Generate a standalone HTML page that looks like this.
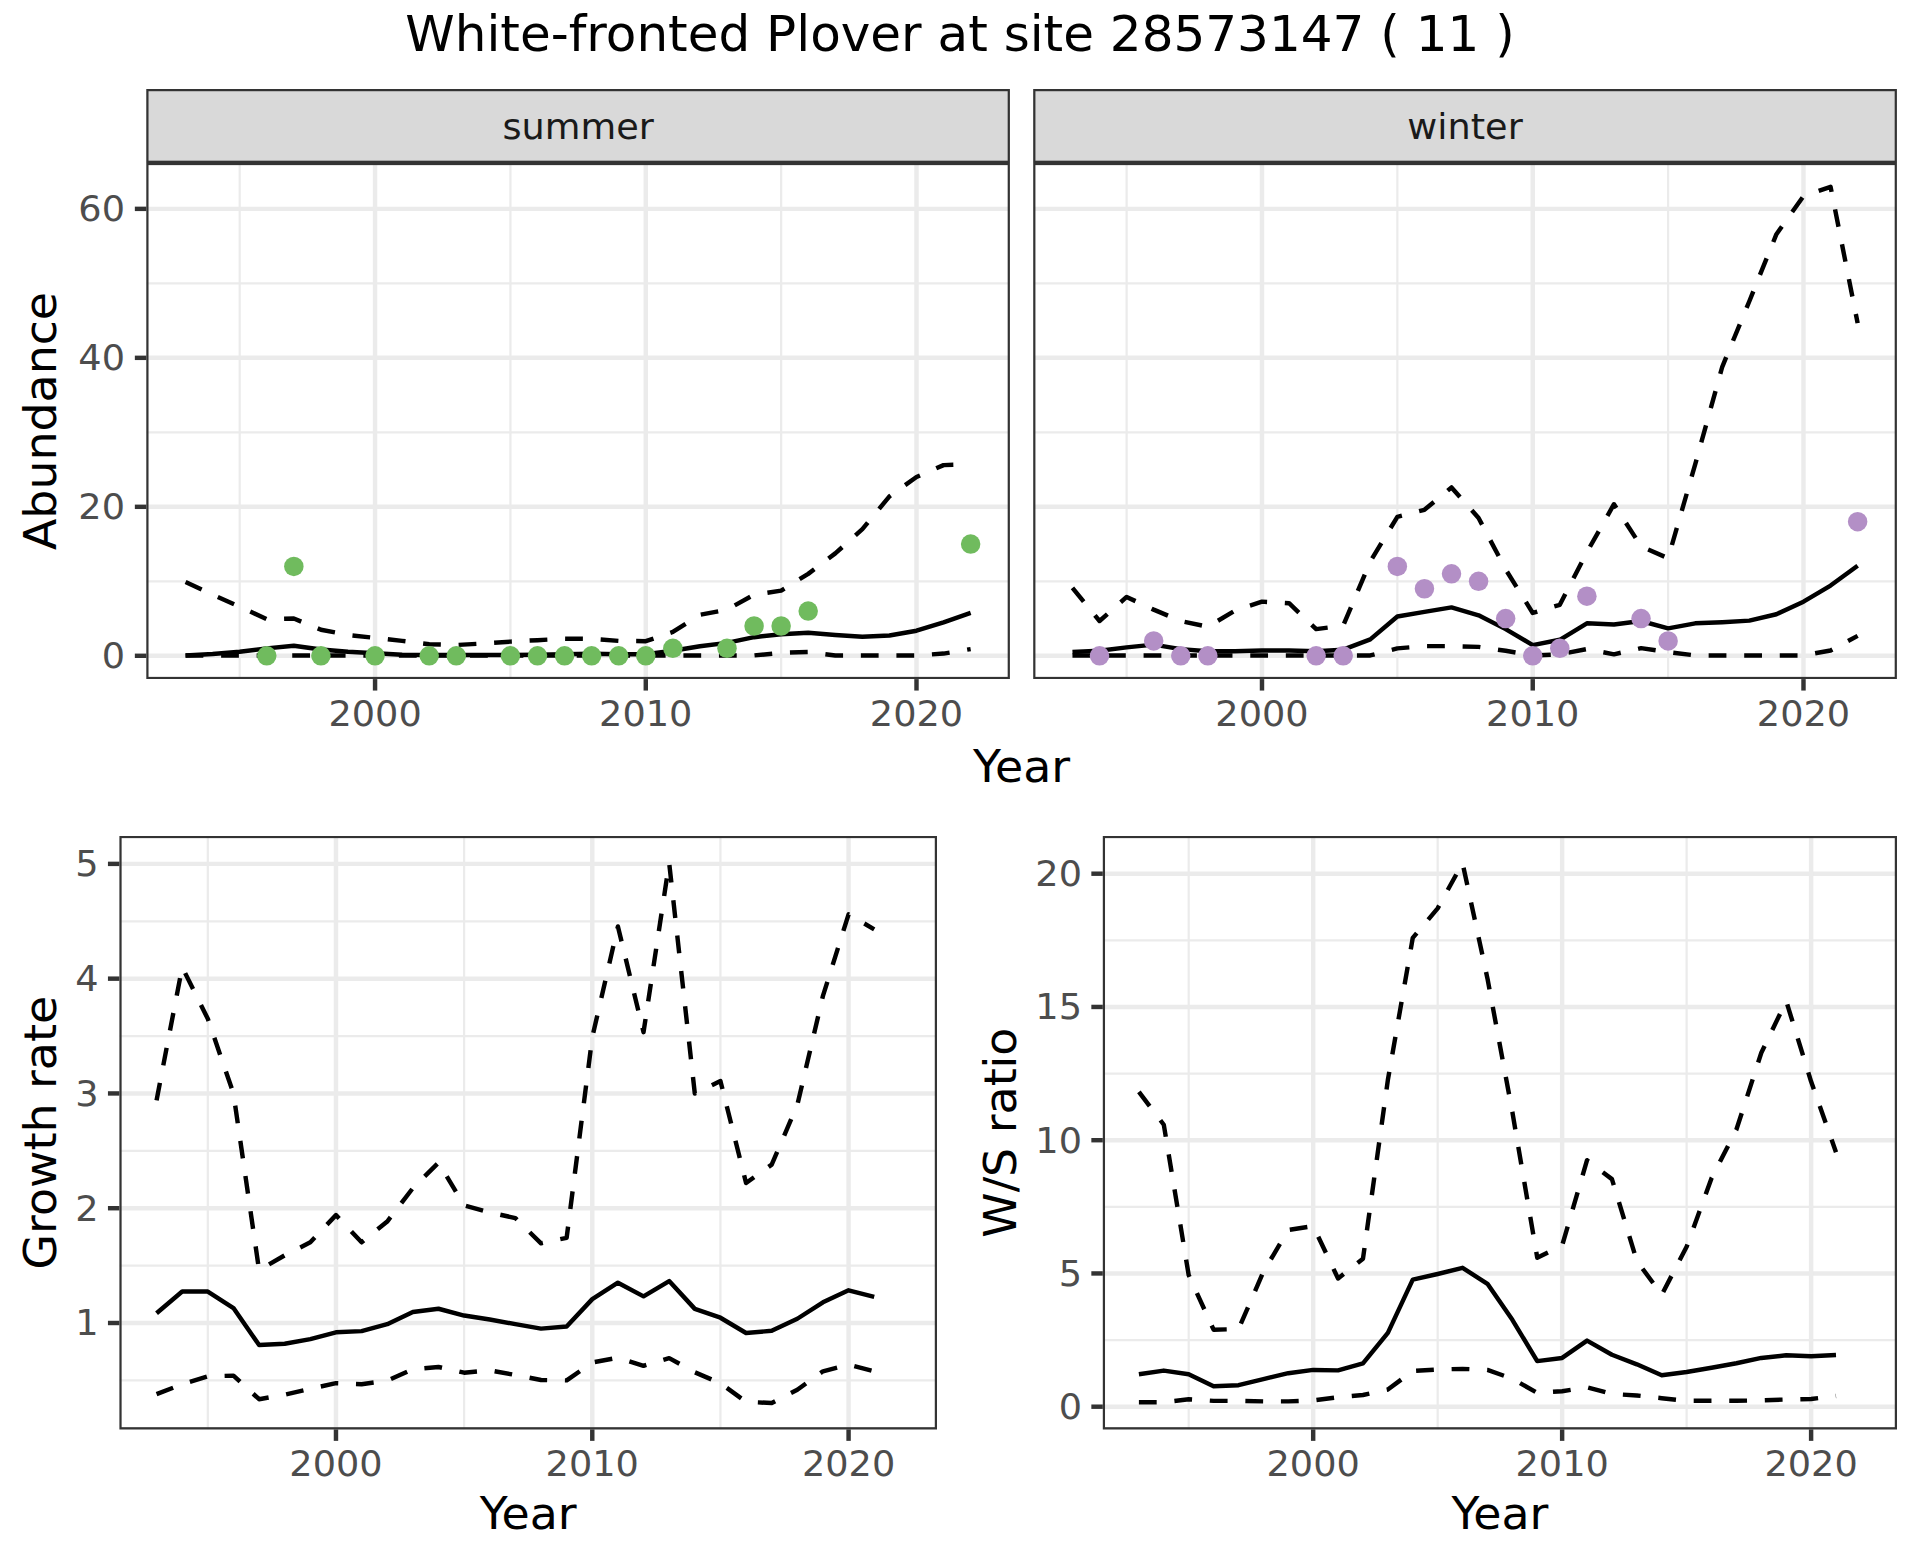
<!DOCTYPE html>
<html><head><meta charset="utf-8"><title>White-fronted Plover at site 28573147 ( 11 )</title>
<style>html,body{margin:0;padding:0;background:#fff;width:1920px;height:1560px;overflow:hidden}svg{display:block}text{font-family:"DejaVu Sans","Liberation Sans",sans-serif}</style>
</head><body>
<svg width="1920" height="1560" viewBox="0 0 1920 1560" font-family="DejaVu Sans, Liberation Sans, sans-serif">
<rect width="100%" height="100%" fill="#fff"/>
<clipPath id="c_summer"><rect x="146.3" y="162.9" width="863.6" height="516.2"/></clipPath>
<g clip-path="url(#c_summer)">
<rect x="146.3" y="162.9" width="863.6" height="516.2" fill="#fff"/>
<line x1="146.3" x2="1009.9" y1="581.31" y2="581.31" stroke="#EBEBEB" stroke-width="2.22"/>
<line x1="146.3" x2="1009.9" y1="432.33" y2="432.33" stroke="#EBEBEB" stroke-width="2.22"/>
<line x1="146.3" x2="1009.9" y1="283.35" y2="283.35" stroke="#EBEBEB" stroke-width="2.22"/>
<line x1="239.7" x2="239.7" y1="162.9" y2="679.1" stroke="#EBEBEB" stroke-width="2.22"/>
<line x1="510.42" x2="510.42" y1="162.9" y2="679.1" stroke="#EBEBEB" stroke-width="2.22"/>
<line x1="781.14" x2="781.14" y1="162.9" y2="679.1" stroke="#EBEBEB" stroke-width="2.22"/>
<line x1="146.3" x2="1009.9" y1="655.8" y2="655.8" stroke="#EBEBEB" stroke-width="4.445"/>
<line x1="146.3" x2="1009.9" y1="506.82" y2="506.82" stroke="#EBEBEB" stroke-width="4.445"/>
<line x1="146.3" x2="1009.9" y1="357.84" y2="357.84" stroke="#EBEBEB" stroke-width="4.445"/>
<line x1="146.3" x2="1009.9" y1="208.86" y2="208.86" stroke="#EBEBEB" stroke-width="4.445"/>
<line x1="375.06" x2="375.06" y1="162.9" y2="679.1" stroke="#EBEBEB" stroke-width="4.445"/>
<line x1="645.78" x2="645.78" y1="162.9" y2="679.1" stroke="#EBEBEB" stroke-width="4.445"/>
<line x1="916.5" x2="916.5" y1="162.9" y2="679.1" stroke="#EBEBEB" stroke-width="4.445"/>
<polyline points="185.55,582.05 212.63,594.72 239.7,606.64 266.77,619.3 293.84,618.55 320.92,629.73 347.99,634.94 375.06,637.92 402.13,640.9 429.2,644.25 456.28,645 483.35,643.51 510.42,641.65 537.49,640.16 564.56,638.67 591.64,638.89 618.71,640.9 645.78,641.2 672.85,631.96 699.92,614.83 727,609.62 754.07,594.72 781.14,590.62 808.21,573.86 835.28,553.38 862.36,529.17 889.43,496.39 916.5,477.02 943.57,465.11 970.65,464.36" fill="none" stroke="#000" stroke-width="4.445" stroke-linejoin="round" stroke-linecap="butt" stroke-dasharray="17.78 17.78"/>
<polyline points="185.55,655.43 212.63,655.43 239.7,655.43 266.77,655.43 293.84,655.43 320.92,655.43 347.99,655.43 375.06,655.43 402.13,655.43 429.2,655.43 456.28,655.43 483.35,655.43 510.42,655.43 537.49,655.43 564.56,655.43 591.64,655.43 618.71,655.43 645.78,655.43 672.85,655.43 699.92,655.43 727,655.43 754.07,655.43 781.14,652.82 808.21,652.08 835.28,655.43 862.36,655.43 889.43,655.43 916.5,655.43 943.57,653.57 970.65,649.1" fill="none" stroke="#000" stroke-width="4.445" stroke-linejoin="round" stroke-linecap="butt" stroke-dasharray="17.78 17.78"/>
<polyline points="185.55,655.43 212.63,653.94 239.7,651.7 266.77,648.35 293.84,645.74 320.92,649.47 347.99,651.7 375.06,653.19 402.13,654.68 429.2,655.06 456.28,655.06 483.35,655.06 510.42,655.06 537.49,654.68 564.56,654.31 591.64,653.79 618.71,654.31 645.78,654.31 672.85,650.81 699.92,646.27 727,642.84 754.07,637.18 781.14,634.2 808.21,632.71 835.28,634.94 862.36,636.66 889.43,635.54 916.5,630.7 943.57,622.28 970.65,612.97" fill="none" stroke="#000" stroke-width="4.445" stroke-linejoin="round" stroke-linecap="butt"/>
<circle cx="266.77" cy="655.8" r="9.75" fill="#70BB5E"/>
<circle cx="293.84" cy="566.41" r="9.75" fill="#70BB5E"/>
<circle cx="320.92" cy="655.8" r="9.75" fill="#70BB5E"/>
<circle cx="375.06" cy="655.8" r="9.75" fill="#70BB5E"/>
<circle cx="429.2" cy="655.8" r="9.75" fill="#70BB5E"/>
<circle cx="456.28" cy="655.8" r="9.75" fill="#70BB5E"/>
<circle cx="510.42" cy="655.8" r="9.75" fill="#70BB5E"/>
<circle cx="537.49" cy="655.8" r="9.75" fill="#70BB5E"/>
<circle cx="564.56" cy="655.8" r="9.75" fill="#70BB5E"/>
<circle cx="591.64" cy="655.8" r="9.75" fill="#70BB5E"/>
<circle cx="618.71" cy="655.8" r="9.75" fill="#70BB5E"/>
<circle cx="645.78" cy="655.8" r="9.75" fill="#70BB5E"/>
<circle cx="672.85" cy="648.35" r="9.75" fill="#70BB5E"/>
<circle cx="727" cy="648.35" r="9.75" fill="#70BB5E"/>
<circle cx="754.07" cy="626" r="9.75" fill="#70BB5E"/>
<circle cx="781.14" cy="626" r="9.75" fill="#70BB5E"/>
<circle cx="808.21" cy="611.11" r="9.75" fill="#70BB5E"/>
<circle cx="970.65" cy="544.06" r="9.75" fill="#70BB5E"/>
<rect x="146.3" y="162.9" width="863.6" height="516.2" fill="none" stroke="#333333" stroke-width="4.445"/>
</g>
<line x1="134.84" x2="146.3" y1="655.8" y2="655.8" stroke="#333333" stroke-width="4.445"/>
<line x1="134.84" x2="146.3" y1="506.82" y2="506.82" stroke="#333333" stroke-width="4.445"/>
<line x1="134.84" x2="146.3" y1="357.84" y2="357.84" stroke="#333333" stroke-width="4.445"/>
<line x1="134.84" x2="146.3" y1="208.86" y2="208.86" stroke="#333333" stroke-width="4.445"/>
<line x1="375.06" x2="375.06" y1="679.1" y2="690.56" stroke="#333333" stroke-width="4.445"/>
<line x1="645.78" x2="645.78" y1="679.1" y2="690.56" stroke="#333333" stroke-width="4.445"/>
<line x1="916.5" x2="916.5" y1="679.1" y2="690.56" stroke="#333333" stroke-width="4.445"/>
<clipPath id="c_winter"><rect x="1033.2" y="162.9" width="863.7" height="516.2"/></clipPath>
<g clip-path="url(#c_winter)">
<rect x="1033.2" y="162.9" width="863.7" height="516.2" fill="#fff"/>
<line x1="1033.2" x2="1896.9" y1="581.31" y2="581.31" stroke="#EBEBEB" stroke-width="2.22"/>
<line x1="1033.2" x2="1896.9" y1="432.33" y2="432.33" stroke="#EBEBEB" stroke-width="2.22"/>
<line x1="1033.2" x2="1896.9" y1="283.35" y2="283.35" stroke="#EBEBEB" stroke-width="2.22"/>
<line x1="1126.61" x2="1126.61" y1="162.9" y2="679.1" stroke="#EBEBEB" stroke-width="2.22"/>
<line x1="1397.36" x2="1397.36" y1="162.9" y2="679.1" stroke="#EBEBEB" stroke-width="2.22"/>
<line x1="1668.11" x2="1668.11" y1="162.9" y2="679.1" stroke="#EBEBEB" stroke-width="2.22"/>
<line x1="1033.2" x2="1896.9" y1="655.8" y2="655.8" stroke="#EBEBEB" stroke-width="4.445"/>
<line x1="1033.2" x2="1896.9" y1="506.82" y2="506.82" stroke="#EBEBEB" stroke-width="4.445"/>
<line x1="1033.2" x2="1896.9" y1="357.84" y2="357.84" stroke="#EBEBEB" stroke-width="4.445"/>
<line x1="1033.2" x2="1896.9" y1="208.86" y2="208.86" stroke="#EBEBEB" stroke-width="4.445"/>
<line x1="1261.99" x2="1261.99" y1="162.9" y2="679.1" stroke="#EBEBEB" stroke-width="4.445"/>
<line x1="1532.74" x2="1532.74" y1="162.9" y2="679.1" stroke="#EBEBEB" stroke-width="4.445"/>
<line x1="1803.49" x2="1803.49" y1="162.9" y2="679.1" stroke="#EBEBEB" stroke-width="4.445"/>
<polyline points="1072.46,587.79 1099.53,621.01 1126.61,596.95 1153.68,609.62 1180.76,621.01 1207.84,626.75 1234.91,610.73 1261.99,601.65 1289.06,603.21 1316.14,629.13 1343.21,625.63 1370.29,561.5 1397.36,516.8 1424.44,509.8 1451.51,487.45 1478.59,517.99 1505.66,569.39 1532.74,612.97 1559.81,604.77 1586.89,552.26 1613.96,504.21 1641.04,546.3 1668.11,558.22 1695.19,464.36 1722.26,366.78 1749.34,301.23 1776.42,234.19 1803.49,196.2 1830.57,186.81 1857.64,323.13" fill="none" stroke="#000" stroke-width="4.445" stroke-linejoin="round" stroke-linecap="butt" stroke-dasharray="17.78 17.78"/>
<polyline points="1072.46,655.43 1099.53,655.43 1126.61,655.43 1153.68,655.43 1180.76,655.43 1207.84,655.43 1234.91,655.43 1261.99,655.43 1289.06,655.43 1316.14,655.43 1343.21,655.43 1370.29,655.43 1397.36,648.35 1424.44,646.12 1451.51,646.12 1478.59,646.86 1505.66,650.81 1532.74,655.43 1559.81,654.31 1586.89,649.1 1613.96,654.31 1641.04,648.13 1668.11,652.08 1695.19,655.43 1722.26,655.43 1749.34,655.43 1776.42,655.43 1803.49,655.43 1830.57,650.44 1857.64,635.91" fill="none" stroke="#000" stroke-width="4.445" stroke-linejoin="round" stroke-linecap="butt" stroke-dasharray="17.78 17.78"/>
<polyline points="1072.46,652.08 1099.53,650.81 1126.61,647.38 1153.68,644.63 1180.76,649.1 1207.84,651.33 1234.91,651.33 1261.99,650.44 1289.06,650.44 1316.14,651.33 1343.21,649.69 1370.29,639.41 1397.36,616.54 1424.44,611.85 1451.51,607.38 1478.59,615.28 1505.66,629.13 1532.74,645.07 1559.81,639.78 1586.89,623.32 1613.96,624.51 1641.04,621.01 1668.11,628.39 1695.19,623.32 1722.26,622.21 1749.34,620.64 1776.42,614.23 1803.49,601.65 1830.57,585.56 1857.64,565.67" fill="none" stroke="#000" stroke-width="4.445" stroke-linejoin="round" stroke-linecap="butt"/>
<circle cx="1099.53" cy="655.8" r="9.75" fill="#B38FC6"/>
<circle cx="1153.68" cy="640.9" r="9.75" fill="#B38FC6"/>
<circle cx="1180.76" cy="655.8" r="9.75" fill="#B38FC6"/>
<circle cx="1207.84" cy="655.8" r="9.75" fill="#B38FC6"/>
<circle cx="1316.14" cy="655.8" r="9.75" fill="#B38FC6"/>
<circle cx="1343.21" cy="655.8" r="9.75" fill="#B38FC6"/>
<circle cx="1397.36" cy="566.41" r="9.75" fill="#B38FC6"/>
<circle cx="1424.44" cy="588.76" r="9.75" fill="#B38FC6"/>
<circle cx="1451.51" cy="573.86" r="9.75" fill="#B38FC6"/>
<circle cx="1478.59" cy="581.31" r="9.75" fill="#B38FC6"/>
<circle cx="1505.66" cy="618.55" r="9.75" fill="#B38FC6"/>
<circle cx="1532.74" cy="655.8" r="9.75" fill="#B38FC6"/>
<circle cx="1559.81" cy="648.35" r="9.75" fill="#B38FC6"/>
<circle cx="1586.89" cy="596.21" r="9.75" fill="#B38FC6"/>
<circle cx="1641.04" cy="618.55" r="9.75" fill="#B38FC6"/>
<circle cx="1668.11" cy="640.9" r="9.75" fill="#B38FC6"/>
<circle cx="1857.64" cy="521.72" r="9.75" fill="#B38FC6"/>
<rect x="1033.2" y="162.9" width="863.7" height="516.2" fill="none" stroke="#333333" stroke-width="4.445"/>
</g>
<line x1="1261.99" x2="1261.99" y1="679.1" y2="690.56" stroke="#333333" stroke-width="4.445"/>
<line x1="1532.74" x2="1532.74" y1="679.1" y2="690.56" stroke="#333333" stroke-width="4.445"/>
<line x1="1803.49" x2="1803.49" y1="679.1" y2="690.56" stroke="#333333" stroke-width="4.445"/>
<clipPath id="c_growth"><rect x="119.4" y="835.9" width="817.6" height="593.5"/></clipPath>
<g clip-path="url(#c_growth)">
<rect x="119.4" y="835.9" width="817.6" height="593.5" fill="#fff"/>
<line x1="119.4" x2="937" y1="1380.39" y2="1380.39" stroke="#EBEBEB" stroke-width="2.22"/>
<line x1="119.4" x2="937" y1="1265.61" y2="1265.61" stroke="#EBEBEB" stroke-width="2.22"/>
<line x1="119.4" x2="937" y1="1150.83" y2="1150.83" stroke="#EBEBEB" stroke-width="2.22"/>
<line x1="119.4" x2="937" y1="1036.05" y2="1036.05" stroke="#EBEBEB" stroke-width="2.22"/>
<line x1="119.4" x2="937" y1="921.27" y2="921.27" stroke="#EBEBEB" stroke-width="2.22"/>
<line x1="207.82" x2="207.82" y1="835.9" y2="1429.4" stroke="#EBEBEB" stroke-width="2.22"/>
<line x1="464.12" x2="464.12" y1="835.9" y2="1429.4" stroke="#EBEBEB" stroke-width="2.22"/>
<line x1="720.43" x2="720.43" y1="835.9" y2="1429.4" stroke="#EBEBEB" stroke-width="2.22"/>
<line x1="119.4" x2="937" y1="1323" y2="1323" stroke="#EBEBEB" stroke-width="4.445"/>
<line x1="119.4" x2="937" y1="1208.22" y2="1208.22" stroke="#EBEBEB" stroke-width="4.445"/>
<line x1="119.4" x2="937" y1="1093.44" y2="1093.44" stroke="#EBEBEB" stroke-width="4.445"/>
<line x1="119.4" x2="937" y1="978.66" y2="978.66" stroke="#EBEBEB" stroke-width="4.445"/>
<line x1="119.4" x2="937" y1="863.88" y2="863.88" stroke="#EBEBEB" stroke-width="4.445"/>
<line x1="335.97" x2="335.97" y1="835.9" y2="1429.4" stroke="#EBEBEB" stroke-width="4.445"/>
<line x1="592.28" x2="592.28" y1="835.9" y2="1429.4" stroke="#EBEBEB" stroke-width="4.445"/>
<line x1="848.58" x2="848.58" y1="835.9" y2="1429.4" stroke="#EBEBEB" stroke-width="4.445"/>
<polyline points="156.56,1100.33 182.19,967.18 207.82,1018.83 233.45,1093.44 259.08,1270.2 284.71,1255.28 310.34,1242.31 335.97,1215.11 361.6,1242.31 387.23,1221.53 412.86,1188.13 438.49,1162.65 464.12,1205.35 489.75,1212.35 515.38,1218.09 541.02,1243.34 566.65,1237.83 592.28,1037.2 617.91,926.44 643.54,1032.15 669.17,862.85 694.8,1093.44 720.43,1081.04 746.06,1182.97 771.69,1164.6 797.32,1104.92 822.95,995.88 848.58,914.38 874.21,929.3" fill="none" stroke="#000" stroke-width="4.445" stroke-linejoin="round" stroke-linecap="butt" stroke-dasharray="17.78 17.78"/>
<polyline points="156.56,1394.16 182.19,1384.18 207.82,1376.26 233.45,1375.68 259.08,1399.21 284.71,1394.62 310.34,1388.77 335.97,1383.14 361.6,1384.18 387.23,1380.73 412.86,1369.26 438.49,1366.96 464.12,1372.7 489.75,1370.4 515.38,1375 541.02,1380.05 566.65,1380.39 592.28,1362.48 617.91,1357.66 643.54,1365.81 669.17,1358.12 694.8,1372.24 720.43,1383.26 746.06,1401.85 771.69,1403 797.32,1389.8 822.95,1371.32 848.58,1364.67 874.21,1371.32" fill="none" stroke="#000" stroke-width="4.445" stroke-linejoin="round" stroke-linecap="butt" stroke-dasharray="17.78 17.78"/>
<polyline points="156.56,1313.24 182.19,1291.55 207.82,1291.55 233.45,1308.08 259.08,1345.04 284.71,1343.78 310.34,1339.18 335.97,1332.3 361.6,1331.15 387.23,1324.15 412.86,1311.98 438.49,1308.77 464.12,1315.54 489.75,1319.56 515.38,1324.15 541.02,1328.62 566.65,1326.44 592.28,1299.13 617.91,1282.71 643.54,1296.37 669.17,1281.11 694.8,1308.88 720.43,1317.72 746.06,1332.99 771.69,1330.81 797.32,1318.75 822.95,1302.34 848.58,1290.29 874.21,1296.94" fill="none" stroke="#000" stroke-width="4.445" stroke-linejoin="round" stroke-linecap="butt"/>
<rect x="119.4" y="835.9" width="817.6" height="593.5" fill="none" stroke="#333333" stroke-width="4.445"/>
</g>
<line x1="107.94" x2="119.4" y1="1323" y2="1323" stroke="#333333" stroke-width="4.445"/>
<line x1="107.94" x2="119.4" y1="1208.22" y2="1208.22" stroke="#333333" stroke-width="4.445"/>
<line x1="107.94" x2="119.4" y1="1093.44" y2="1093.44" stroke="#333333" stroke-width="4.445"/>
<line x1="107.94" x2="119.4" y1="978.66" y2="978.66" stroke="#333333" stroke-width="4.445"/>
<line x1="107.94" x2="119.4" y1="863.88" y2="863.88" stroke="#333333" stroke-width="4.445"/>
<line x1="335.97" x2="335.97" y1="1429.4" y2="1440.86" stroke="#333333" stroke-width="4.445"/>
<line x1="592.28" x2="592.28" y1="1429.4" y2="1440.86" stroke="#333333" stroke-width="4.445"/>
<line x1="848.58" x2="848.58" y1="1429.4" y2="1440.86" stroke="#333333" stroke-width="4.445"/>
<clipPath id="c_ratio"><rect x="1102.8" y="835.9" width="794.2" height="593.5"/></clipPath>
<g clip-path="url(#c_ratio)">
<rect x="1102.8" y="835.9" width="794.2" height="593.5" fill="#fff"/>
<line x1="1102.8" x2="1897" y1="1340.08" y2="1340.08" stroke="#EBEBEB" stroke-width="2.22"/>
<line x1="1102.8" x2="1897" y1="1206.83" y2="1206.83" stroke="#EBEBEB" stroke-width="2.22"/>
<line x1="1102.8" x2="1897" y1="1073.58" y2="1073.58" stroke="#EBEBEB" stroke-width="2.22"/>
<line x1="1102.8" x2="1897" y1="940.33" y2="940.33" stroke="#EBEBEB" stroke-width="2.22"/>
<line x1="1188.69" x2="1188.69" y1="835.9" y2="1429.4" stroke="#EBEBEB" stroke-width="2.22"/>
<line x1="1437.66" x2="1437.66" y1="835.9" y2="1429.4" stroke="#EBEBEB" stroke-width="2.22"/>
<line x1="1686.62" x2="1686.62" y1="835.9" y2="1429.4" stroke="#EBEBEB" stroke-width="2.22"/>
<line x1="1102.8" x2="1897" y1="1406.7" y2="1406.7" stroke="#EBEBEB" stroke-width="4.445"/>
<line x1="1102.8" x2="1897" y1="1273.45" y2="1273.45" stroke="#EBEBEB" stroke-width="4.445"/>
<line x1="1102.8" x2="1897" y1="1140.2" y2="1140.2" stroke="#EBEBEB" stroke-width="4.445"/>
<line x1="1102.8" x2="1897" y1="1006.95" y2="1006.95" stroke="#EBEBEB" stroke-width="4.445"/>
<line x1="1102.8" x2="1897" y1="873.7" y2="873.7" stroke="#EBEBEB" stroke-width="4.445"/>
<line x1="1313.18" x2="1313.18" y1="835.9" y2="1429.4" stroke="#EBEBEB" stroke-width="4.445"/>
<line x1="1562.14" x2="1562.14" y1="835.9" y2="1429.4" stroke="#EBEBEB" stroke-width="4.445"/>
<line x1="1811.11" x2="1811.11" y1="835.9" y2="1429.4" stroke="#EBEBEB" stroke-width="4.445"/>
<polyline points="1138.9,1091.96 1163.8,1124.74 1188.69,1275.05 1213.59,1329.68 1238.49,1329.15 1263.38,1271.85 1288.28,1230.01 1313.18,1226.01 1338.07,1278.51 1362.97,1258.79 1387.87,1079.97 1412.76,937.93 1437.66,908.35 1462.56,863.04 1487.45,978.43 1512.35,1111.95 1537.24,1257.73 1562.14,1245.47 1587.04,1160.19 1611.93,1179.11 1636.83,1260.92 1661.73,1294.77 1686.62,1246.8 1711.52,1178.31 1736.42,1129.54 1761.31,1052.79 1786.21,1001.09 1811.11,1081.57 1836,1152.19" fill="none" stroke="#000" stroke-width="4.445" stroke-linejoin="round" stroke-linecap="butt" stroke-dasharray="17.78 17.78"/>
<polyline points="1138.9,1402.2 1163.8,1402.2 1188.69,1399.29 1213.59,1400.89 1238.49,1400.89 1263.38,1401.37 1288.28,1401.37 1313.18,1400.41 1338.07,1397.21 1362.97,1395 1387.87,1389.51 1412.76,1370.99 1437.66,1369.5 1462.56,1368.86 1487.45,1369.92 1512.35,1378.72 1537.24,1392.84 1562.14,1391.24 1587.04,1387.25 1611.93,1393.91 1636.83,1395.51 1661.73,1398.17 1686.62,1400.84 1711.52,1400.84 1736.42,1400.84 1761.31,1400.3 1786.21,1399.5 1811.11,1398.97 1836,1396.04" fill="none" stroke="#000" stroke-width="4.445" stroke-linejoin="round" stroke-linecap="butt" stroke-dasharray="17.78 17.78"/>
<polyline points="1138.9,1374.29 1163.8,1370.59 1188.69,1374.29 1213.59,1386.31 1238.49,1385.19 1263.38,1379.09 1288.28,1373.2 1313.18,1369.92 1338.07,1370.4 1362.97,1363.39 1387.87,1332.88 1412.76,1279.58 1437.66,1273.98 1462.56,1267.85 1487.45,1283.84 1512.35,1319.82 1537.24,1361.13 1562.14,1357.93 1587.04,1340.61 1611.93,1354.73 1636.83,1364.33 1661.73,1375.25 1686.62,1372.06 1711.52,1367.79 1736.42,1363.26 1761.31,1357.93 1786.21,1355.27 1811.11,1356.33 1836,1355" fill="none" stroke="#000" stroke-width="4.445" stroke-linejoin="round" stroke-linecap="butt"/>
<rect x="1102.8" y="835.9" width="794.2" height="593.5" fill="none" stroke="#333333" stroke-width="4.445"/>
</g>
<line x1="1091.34" x2="1102.8" y1="1406.7" y2="1406.7" stroke="#333333" stroke-width="4.445"/>
<line x1="1091.34" x2="1102.8" y1="1273.45" y2="1273.45" stroke="#333333" stroke-width="4.445"/>
<line x1="1091.34" x2="1102.8" y1="1140.2" y2="1140.2" stroke="#333333" stroke-width="4.445"/>
<line x1="1091.34" x2="1102.8" y1="1006.95" y2="1006.95" stroke="#333333" stroke-width="4.445"/>
<line x1="1091.34" x2="1102.8" y1="873.7" y2="873.7" stroke="#333333" stroke-width="4.445"/>
<line x1="1313.18" x2="1313.18" y1="1429.4" y2="1440.86" stroke="#333333" stroke-width="4.445"/>
<line x1="1562.14" x2="1562.14" y1="1429.4" y2="1440.86" stroke="#333333" stroke-width="4.445"/>
<line x1="1811.11" x2="1811.11" y1="1429.4" y2="1440.86" stroke="#333333" stroke-width="4.445"/>
<clipPath id="s_summer"><rect x="146.3" y="89" width="863.6" height="73.9"/></clipPath>
<rect clip-path="url(#s_summer)" x="146.3" y="89" width="863.6" height="73.9" fill="#D9D9D9" stroke="#333333" stroke-width="4.445"/>
<text transform="translate(578.1,138.8) scale(1,0.955)" text-anchor="middle" font-size="36.67" fill="#1A1A1A">summer</text>
<clipPath id="s_winter"><rect x="1033.2" y="89" width="863.7" height="73.9"/></clipPath>
<rect clip-path="url(#s_winter)" x="1033.2" y="89" width="863.7" height="73.9" fill="#D9D9D9" stroke="#333333" stroke-width="4.445"/>
<text transform="translate(1465.05,138.8) scale(1,0.955)" text-anchor="middle" font-size="36.67" fill="#1A1A1A">winter</text>
<text transform="translate(125,668.2) scale(1,0.960)" text-anchor="end" font-size="36.67" fill="#4D4D4D">0</text>
<text transform="translate(125,519.22) scale(1,0.960)" text-anchor="end" font-size="36.67" fill="#4D4D4D">20</text>
<text transform="translate(125,370.24) scale(1,0.960)" text-anchor="end" font-size="36.67" fill="#4D4D4D">40</text>
<text transform="translate(125,221.26) scale(1,0.960)" text-anchor="end" font-size="36.67" fill="#4D4D4D">60</text>
<text transform="translate(98.5,1335.4) scale(1,0.960)" text-anchor="end" font-size="36.67" fill="#4D4D4D">1</text>
<text transform="translate(98.5,1220.62) scale(1,0.960)" text-anchor="end" font-size="36.67" fill="#4D4D4D">2</text>
<text transform="translate(98.5,1105.84) scale(1,0.960)" text-anchor="end" font-size="36.67" fill="#4D4D4D">3</text>
<text transform="translate(98.5,991.06) scale(1,0.960)" text-anchor="end" font-size="36.67" fill="#4D4D4D">4</text>
<text transform="translate(98.5,876.28) scale(1,0.960)" text-anchor="end" font-size="36.67" fill="#4D4D4D">5</text>
<text transform="translate(1082,1419.1) scale(1,0.960)" text-anchor="end" font-size="36.67" fill="#4D4D4D">0</text>
<text transform="translate(1082,1285.85) scale(1,0.960)" text-anchor="end" font-size="36.67" fill="#4D4D4D">5</text>
<text transform="translate(1082,1152.6) scale(1,0.960)" text-anchor="end" font-size="36.67" fill="#4D4D4D">10</text>
<text transform="translate(1082,1019.35) scale(1,0.960)" text-anchor="end" font-size="36.67" fill="#4D4D4D">15</text>
<text transform="translate(1082,886.1) scale(1,0.960)" text-anchor="end" font-size="36.67" fill="#4D4D4D">20</text>
<text transform="translate(375.06,725.6) scale(1,0.960)" text-anchor="middle" font-size="36.67" fill="#4D4D4D">2000</text>
<text transform="translate(645.78,725.6) scale(1,0.960)" text-anchor="middle" font-size="36.67" fill="#4D4D4D">2010</text>
<text transform="translate(916.5,725.6) scale(1,0.960)" text-anchor="middle" font-size="36.67" fill="#4D4D4D">2020</text>
<text transform="translate(1261.99,725.6) scale(1,0.960)" text-anchor="middle" font-size="36.67" fill="#4D4D4D">2000</text>
<text transform="translate(1532.74,725.6) scale(1,0.960)" text-anchor="middle" font-size="36.67" fill="#4D4D4D">2010</text>
<text transform="translate(1803.49,725.6) scale(1,0.960)" text-anchor="middle" font-size="36.67" fill="#4D4D4D">2020</text>
<text transform="translate(335.97,1475.9) scale(1,0.960)" text-anchor="middle" font-size="36.67" fill="#4D4D4D">2000</text>
<text transform="translate(592.28,1475.9) scale(1,0.960)" text-anchor="middle" font-size="36.67" fill="#4D4D4D">2010</text>
<text transform="translate(848.58,1475.9) scale(1,0.960)" text-anchor="middle" font-size="36.67" fill="#4D4D4D">2020</text>
<text transform="translate(1313.18,1475.9) scale(1,0.960)" text-anchor="middle" font-size="36.67" fill="#4D4D4D">2000</text>
<text transform="translate(1562.14,1475.9) scale(1,0.960)" text-anchor="middle" font-size="36.67" fill="#4D4D4D">2010</text>
<text transform="translate(1811.11,1475.9) scale(1,0.960)" text-anchor="middle" font-size="36.67" fill="#4D4D4D">2020</text>
<text transform="translate(1021.6,781.75) scale(1,0.975)" text-anchor="middle" font-size="45.83" fill="#000">Year</text>
<text transform="translate(528.2,1528.95) scale(1,0.975)" text-anchor="middle" font-size="45.83" fill="#000">Year</text>
<text transform="translate(1499.9,1528.95) scale(1,0.975)" text-anchor="middle" font-size="45.83" fill="#000">Year</text>
<text transform="translate(56,421) rotate(-90) scale(1,0.975)" text-anchor="middle" font-size="45.83" fill="#000">Abundance</text>
<text transform="translate(56,1132.65) rotate(-90) scale(1,0.975)" text-anchor="middle" font-size="45.83" fill="#000">Growth rate</text>
<text transform="translate(1015.8,1132.65) rotate(-90) scale(1,0.975)" text-anchor="middle" font-size="45.83" fill="#000">W/S ratio</text>
<text transform="translate(960,51)" text-anchor="middle" font-size="50" fill="#000">White-fronted Plover at site 28573147 ( 11 )</text>
</svg>
</body></html>
